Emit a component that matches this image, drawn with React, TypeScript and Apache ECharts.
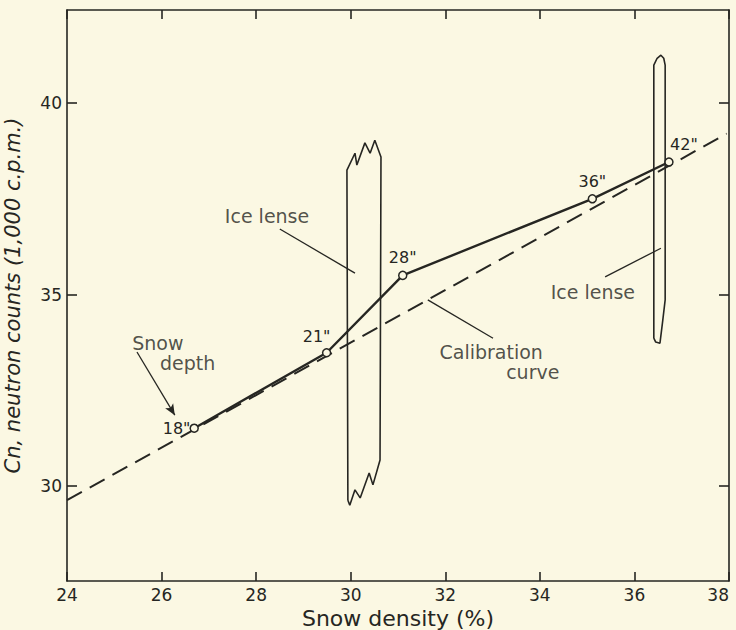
import React, { useEffect, useRef } from "react";
import * as echarts from "echarts";

// Measured data (snow density %, neutron counts x1000 cpm)
const densities = [26.69, 29.49, 31.1, 35.11, 36.73];
const counts = [31.51, 33.48, 35.5, 37.5, 38.46];
const depths = ['18"', '21"', '28"', '36"', '42"'];

// Calibration curve
const calibDensity = [24, 31.1, 37.95];
const calibCounts = [29.63, 34.5, 39.2];

// Axis ticks
const xTicks = [24, 26, 28, 30, 32, 34, 36, 38];
const yTicks = [30, 35, 40];

// Ice lense outlines (data coordinates)
const leftLenseX = [29.94, 29.92, 30.09, 30.13, 30.3, 30.41, 30.51, 30.64, 30.62, 30.47, 30.39, 30.2, 30.09, 29.98, 29.94];
const leftLenseY = [29.63, 38.25, 38.69, 38.38, 38.96, 38.69, 39.03, 38.59, 30.68, 30.03, 30.34, 29.69, 29.9, 29.5, 29.63];
const rightLenseX = [36.41, 36.41, 36.48, 36.56, 36.62, 36.65, 36.65, 36.6, 36.54, 36.45, 36.41];
const rightLenseY = [33.86, 40.99, 41.17, 41.25, 41.17, 40.99, 34.86, 34.33, 33.73, 33.76, 33.86];

// Annotation texts
const noteTexts = ["Ice lense", "Ice lense", "Snow", "depth", "Calibration", "curve"];
const noteX = [28.23, 35.12, 25.92, 26.55, 32.97, 33.85];
const noteY = [37.05, 35.07, 33.73, 33.21, 33.5, 32.98];

// Leader lines [x1, y1, x2, y2]
const leaderLeftLense = [28.5, 36.71, 30.09, 35.56];
const leaderRightLense = [35.38, 35.46, 36.56, 36.21];
const leaderCalib = [31.63, 34.86, 33.01, 33.86];
const arrowSnowDepth = [25.48, 33.5, 26.28, 31.85];

const ink = "#262622";
const bg = "#fbf8e3";
const font = "DejaVu Sans";

export default function App() {
  const ref = useRef<HTMLDivElement>(null);

  useEffect(() => {
    if (!ref.current) return;
    const chart = echarts.init(ref.current, null, { renderer: "svg" });

    const pointLabelCfg: any[] = [
      { position: "left", distance: -1 },
      { position: "top", distance: 4, offset: [-10, 0] },
      { position: "top", distance: 5 },
      { position: "top", distance: 5 },
      { position: "top", distance: 5, offset: [15, 0] },
    ];

    const seg = (a: number[], arrow: boolean) => [
      { coord: [a[0], a[1]], symbol: "none" },
      { coord: [a[2], a[3]], symbol: arrow ? "arrow" : "none", symbolSize: arrow ? [7, 11] : 0 },
    ];

    const axisLineStyle = { color: ink, width: 1.6 };

    const option: any = {
      animation: false,
      backgroundColor: bg,
      grid: { left: 67, right: 7, top: 10, bottom: 49, show: false, outerBoundsMode: "none", containLabel: false },
      xAxis: [
        {
          type: "value",
          min: 24,
          max: 38,
          interval: 2,
          position: "bottom",
          name: "Snow density (%)",
          nameLocation: "middle",
          nameGap: 23,
          nameTextStyle: { fontFamily: font, fontSize: 22, color: ink },
          axisLine: { show: true, lineStyle: axisLineStyle },
          axisTick: { show: true, inside: true, length: 9, lineStyle: axisLineStyle },
          axisLabel: {
            fontFamily: font,
            fontSize: 17,
            color: ink,
            margin: 5,
            showMinLabel: true,
            showMaxLabel: true,
            alignMaxLabel: "right",
          },
          splitLine: { show: false },
        },
        {
          type: "value",
          min: 24,
          max: 38,
          interval: 2,
          position: "top",
          axisLine: { show: true, lineStyle: axisLineStyle },
          axisTick: { show: true, inside: true, length: 9, lineStyle: axisLineStyle },
          axisLabel: { show: false },
          splitLine: { show: false },
        },
      ],
      yAxis: [
        {
          type: "value",
          min: 27.52,
          max: 42.43,
          position: "left",
          name: "Cn, neutron counts (1,000 c.p.m.)",
          nameLocation: "middle",
          nameRotate: 90,
          nameGap: 44,
          nameTextStyle: { fontFamily: font, fontSize: 21, fontStyle: "italic", color: ink },
          axisLine: { show: true, lineStyle: axisLineStyle },
          axisTick: { show: true, inside: true, length: 10, lineStyle: axisLineStyle, customValues: yTicks },
          axisLabel: { fontFamily: font, fontSize: 17, color: ink, margin: 5, customValues: yTicks },
          splitLine: { show: false },
        },
        {
          type: "value",
          min: 27.52,
          max: 42.43,
          position: "right",
          axisLine: { show: true, lineStyle: axisLineStyle },
          axisTick: { show: true, inside: true, length: 10, lineStyle: axisLineStyle, customValues: yTicks },
          axisLabel: { show: false, customValues: yTicks },
          splitLine: { show: false },
        },
      ],
      series: [
        {
          name: "Calibration curve",
          type: "line",
          data: calibDensity.map((x, i) => [x, calibCounts[i]]),
          showSymbol: false,
          symbol: "none",
          lineStyle: { color: ink, width: 2, type: [17, 9] },
          z: 2,
        },
        {
          name: "Ice lense left",
          type: "line",
          data: leftLenseX.map((x, i) => [x, leftLenseY[i]]),
          showSymbol: false,
          symbol: "none",
          lineStyle: { color: ink, width: 1.6 },
          z: 2,
        },
        {
          name: "Ice lense right",
          type: "line",
          data: rightLenseX.map((x, i) => [x, rightLenseY[i]]),
          showSymbol: false,
          symbol: "none",
          lineStyle: { color: ink, width: 1.6 },
          z: 2,
        },
        {
          name: "Notes",
          type: "scatter",
          symbolSize: 0,
          data: noteTexts.map((t, i) => ({ name: t, value: [noteX[i], noteY[i]] })),
          label: {
            show: true,
            position: "inside",
            formatter: "{b}",
            fontFamily: font,
            fontSize: 19,
            color: ink,
          },
          silent: true,
          markLine: {
            silent: true,
            animation: false,
            symbol: ["none", "none"],
            label: { show: false },
            lineStyle: { color: ink, width: 1.3, type: "solid" },
            data: [
              seg(leaderLeftLense, false),
              seg(leaderRightLense, false),
              seg(leaderCalib, false),
              seg(arrowSnowDepth, true),
            ],
          },
          z: 3,
        },
        {
          name: "Measured",
          type: "line",
          data: densities.map((x, i) => ({
            value: [x, counts[i]],
            label: { show: true, formatter: depths[i], ...pointLabelCfg[i] },
          })),
          symbol: "circle",
          symbolSize: 8,
          showAllSymbol: true,
          itemStyle: { color: bg, borderColor: ink, borderWidth: 1.5 },
          lineStyle: { color: ink, width: 2.4 },
          label: { fontFamily: font, fontSize: 16, color: ink },
          z: 4,
        },
      ],
    };

    chart.setOption(option);
    return () => chart.dispose();
  }, []);

  return (
    <div
      ref={ref}
      style={{ position: "absolute", left: 0, top: 0, width: 736, height: 630, background: bg }}
    />
  );
}
